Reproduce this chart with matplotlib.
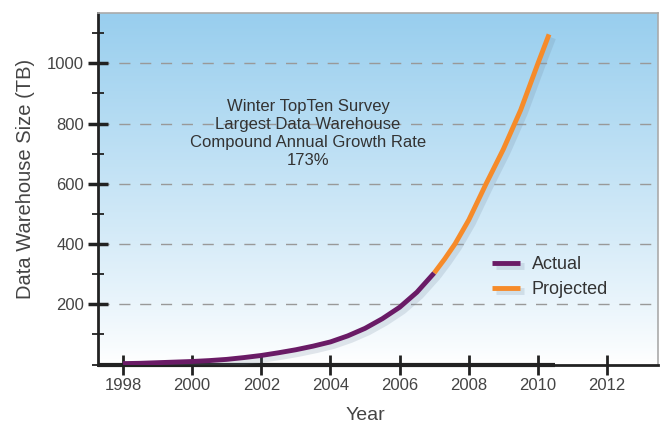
import numpy as np
import matplotlib
matplotlib.use("Agg")
import matplotlib.pyplot as plt
import matplotlib.patheffects as pe
from matplotlib.ticker import MultipleLocator

plt.rcParams['font.family'] = ['Liberation Sans', 'DejaVu Sans']

# Data
actual_years = [1998, 1998.5, 1999, 1999.5, 2000, 2000.5, 2001, 2001.5, 2002, 2002.5,
                2003, 2003.5, 2004, 2004.5, 2005, 2005.5, 2006, 2006.5, 2007]
actual_tb = [3, 4, 6, 8, 10, 13, 17, 23, 30, 39, 49, 61, 75, 95, 120, 152, 190, 240, 304]
proj_years = [2007, 2007.3, 2007.6, 2008, 2008.5, 2009, 2009.5, 2010, 2010.32]
proj_tb = [304, 350, 400, 480, 600, 715, 845, 1000, 1096]
x_ticks = [1998, 2000, 2002, 2004, 2006, 2008, 2010, 2012]
y_ticks = [200, 400, 600, 800, 1000]
annotation = "Winter TopTen Survey\nLargest Data Warehouse\nCompound Annual Growth Rate\n173%"

W, H = 663, 423
fig = plt.figure(figsize=(W / 100, H / 100), dpi=100)
ax = fig.add_axes([98 / W, 1 - 364.5 / H, (658 - 98) / W, (364.5 - 13) / H])

xmin, xmax = 1997.28, 2013.47
ymin, ymax = 0, 1167
ax.set_xlim(xmin, xmax)
ax.set_ylim(ymin, ymax)

# gradient background
grad = np.linspace(0, 1, 256).reshape(-1, 1)
top = np.array([152, 206, 238]) / 255
bot = np.array([255, 255, 255]) / 255
g = grad ** 0.9
img = bot * (1 - g)[..., None] + top * g[..., None]
img = img.reshape(256, 1, 3)
ax.imshow(img, extent=[xmin, xmax, ymin, ymax], origin='lower', aspect='auto', zorder=0)

for yv in y_ticks:
    ax.axhline(yv, color='#999999', lw=1, ls=(0, (8, 7)), zorder=1)

shadow = [pe.SimpleLineShadow(offset=(2.5, -2.5), shadow_color='#6a7f96', alpha=0.18, linewidth=5), pe.Normal()]
ax.plot(actual_years, actual_tb, color='#6a1b66', lw=3.5, solid_capstyle='butt', zorder=4,
        label='Actual', path_effects=shadow)
ax.plot(proj_years, proj_tb, color='#f68b2a', lw=3.5, solid_capstyle='butt', zorder=4,
        label='Projected', path_effects=shadow)

# thick baseline segment
ax.plot([xmin, 2010.5], [0, 0], color='#222222', lw=3, zorder=3, clip_on=False, solid_capstyle='butt')

ax.text(2003.35, 768, annotation, ha='center', va='center', fontsize=12, color='#333333',
        linespacing=1.25, zorder=5)

leg = ax.legend(loc='upper left', bbox_to_anchor=(0.675, 0.355), frameon=False, fontsize=13,
                handlelength=1.55, handletextpad=0.65, labelspacing=0.45)
for t in leg.get_texts():
    t.set_color('#333333')

ax.set_xticks(x_ticks)
ax.set_yticks(y_ticks)
ax.yaxis.set_minor_locator(MultipleLocator(100))
ax.tick_params(axis='both', which='major', direction='inout', length=14, width=2, color='#222222',
               labelsize=12, labelcolor='#444444', pad=3)
ax.tick_params(axis='y', which='minor', direction='inout', length=9, width=1.3, color='#222222')
ax.tick_params(axis='y', which='major', width=2.5)

ax.set_xlabel('Year', fontsize=14, color='#444444')
ax.xaxis.set_label_coords(0.478, -0.12)
ax.set_ylabel('Data Warehouse Size (TB)', fontsize=14.5, color='#444444')
ax.yaxis.set_label_coords(-0.112, 0.528)

for s in ['left', 'bottom']:
    ax.spines[s].set_color('#222222')
    ax.spines[s].set_linewidth(2)
for s in ['top', 'right']:
    ax.spines[s].set_color('#aaaaaa')
    ax.spines[s].set_linewidth(1.2)

fig.savefig('out.png', dpi=100, facecolor='white')
